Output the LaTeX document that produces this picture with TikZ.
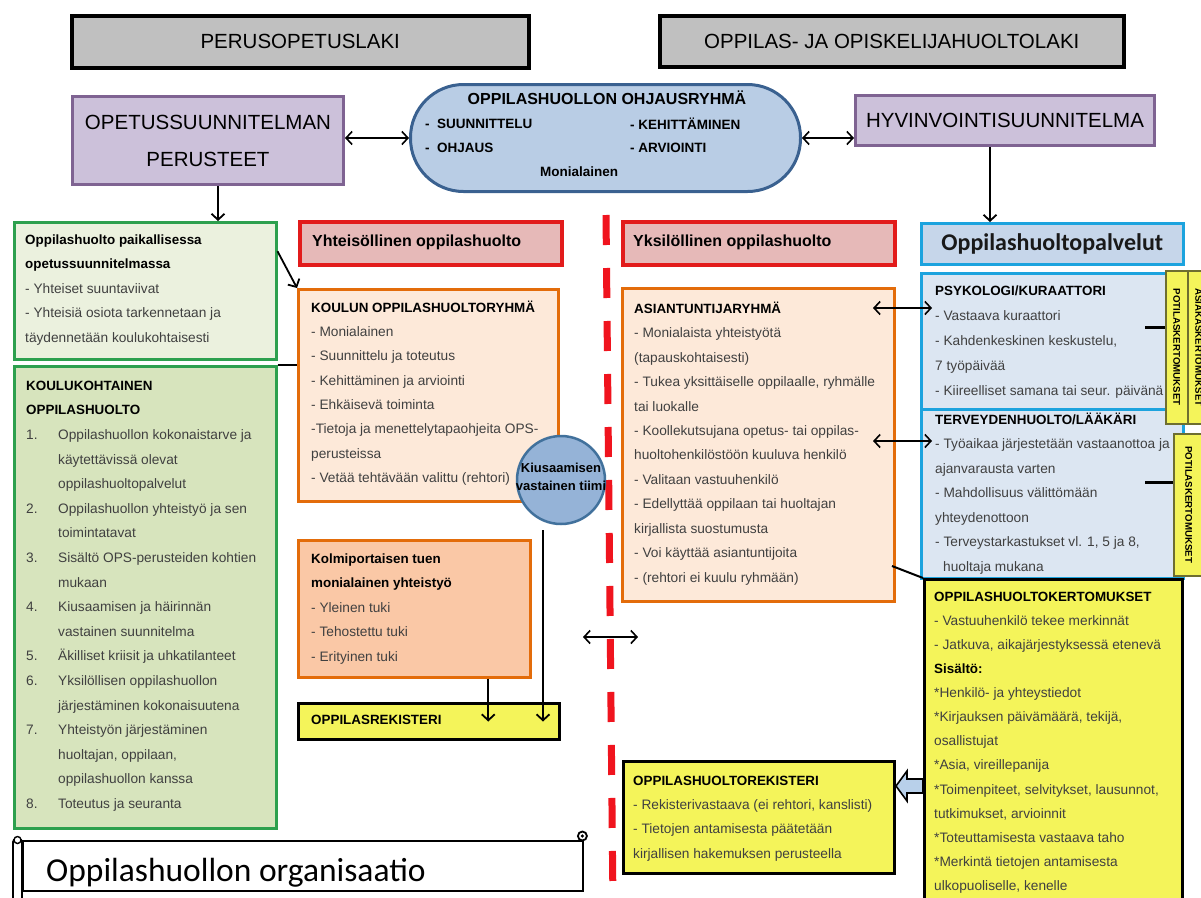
\documentclass[tikz,border=0pt]{standalone}
\usepackage{fontspec}
\setmainfont{Liberation Sans}
\newfontfamily\calfont{Carlito}
\usetikzlibrary{arrows.meta}
\definecolor{grayfill}{HTML}{C0C0C0}
\definecolor{purfill}{HTML}{CCC1DA}
\definecolor{purline}{HTML}{7F6392}
\definecolor{stfill}{HTML}{B9CDE5}
\definecolor{stline}{HTML}{3A6190}
\definecolor{gafill}{HTML}{EBF1DE}
\definecolor{gbfill}{HTML}{D7E4BD}
\definecolor{gline}{HTML}{2DA04E}
\definecolor{rfill}{HTML}{E6B9B8}
\definecolor{rline}{HTML}{E21B1B}
\definecolor{ofill}{HTML}{FDE9D9}
\definecolor{ofilltwo}{HTML}{FAC8A6}
\definecolor{oline}{HTML}{E36C0A}
\definecolor{yfill}{HTML}{F4F45A}
\definecolor{bfill}{HTML}{C6D6EA}
\definecolor{bfilltwo}{HTML}{DCE6F2}
\definecolor{bline}{HTML}{1CA3DE}
\definecolor{cfill}{HTML}{95B3D7}
\definecolor{cline}{HTML}{41719C}
\definecolor{tabline}{HTML}{6E6E30}
\definecolor{bodyc}{HTML}{404040}
\definecolor{dashred}{HTML}{F0141E}
\definecolor{arrfill}{HTML}{B8D0EA}
\newcommand\mytt[1]{{\fontsize{13.4}{24.5}\selectfont\bfseries\color{black}#1}}
\newcommand\mynum[1]{\makebox[32pt][l]{#1}}
\newcommand\myind{\hspace*{32pt}}
\newcommand\mystr{\rule{0pt}{13pt}}
\begin{document}
\begin{tikzpicture}[x=1pt,y=-1pt,
 bx/.style={draw, rectangle, anchor=north west, inner sep=0pt},
 grayb/.style={bx, fill=grayfill, line width=3.5pt},
 purb/.style={bx, fill=purfill, draw=purline, line width=3pt},
 gab/.style={bx, fill=gafill, draw=gline, line width=2.5pt},
 gbb/.style={bx, fill=gbfill, draw=gline, line width=2.5pt},
 redb/.style={bx, fill=rfill, draw=rline, line width=3.5pt},
 orb/.style={bx, fill=ofill, draw=oline, line width=2.5pt},
 orbtwo/.style={bx, fill=ofilltwo, draw=oline, line width=2.5pt},
 yelb/.style={bx, fill=yfill, draw=black, line width=3pt},
 blub/.style={bx, fill=bfilltwo, draw=bline, line width=2.5pt},
 tabb/.style={bx, fill=yfill, draw=tabline, line width=1.5pt},
 txt/.style={anchor=north west, inner sep=0pt, align=left, text=bodyc, font=\fontsize{13.7}{24.5}\selectfont},
 bigtxt/.style={font=\fontsize{20.5}{37}\selectfont, text=black, align=center, inner sep=0pt},
 hdtxt/.style={anchor=west, inner sep=0pt, font=\fontsize{16}{19}\selectfont\bfseries, text=black},
 sttxt/.style={anchor=west, inner sep=0pt, font=\fontsize{13.5}{16}\selectfont\bfseries, text=black},
 tabtxt/.style={rotate=-90, inner sep=0pt, font=\fontsize{9.7}{11}\selectfont\bfseries, text=black},
 arr/.style={line width=1.8pt, -{Straight Barb[length=6pt,width=13pt]}},
 biarr/.style={line width=1.6pt, {Straight Barb[length=6pt,width=13pt]}-{Straight Barb[length=6pt,width=13pt]}},
 plainln/.style={line width=2pt}]
\useasboundingbox (0,0) rectangle (1201,897);
\fill[white] (0,0) rectangle (1201,897);

% dashed divider
\draw[dashred, line width=7pt, dash pattern=on 30pt off 23pt] (606,215) -- (613,905);

% top row
\node[grayb, minimum width=457pt, minimum height=52pt] (grayL) at (70,14) {};
\node[bigtxt] (grayLt) at (grayL.center) {PERUSOPETUSLAKI};
\node[grayb, minimum width=464pt, minimum height=51pt] (grayR) at (658,14) {};
\node[bigtxt] (grayRt) at (grayR.center) {OPPILAS- JA OPISKELIJAHUOLTOLAKI};

% second row
\node[purb, minimum width=271pt, minimum height=88pt] (purpL) at (71,95) {};
\node[bigtxt] (purpLt) at (purpL.center) {OPETUSSUUNNITELMAN\\PERUSTEET};
\node[purb, minimum width=299pt, minimum height=50pt] (purpR) at (854,94) {};
\node[bigtxt] (purpRt) at (purpR.center) {HYVINVOINTISUUNNITELMA};

\node[draw=stline, fill=stfill, line width=3pt, rounded corners=53pt, minimum width=390pt, minimum height=107pt, anchor=north west, inner sep=0pt] (stad) at (409,83) {};
\node[inner sep=0pt, font=\fontsize{16}{19}\selectfont\bfseries] (stadT) at (607,98) {OPPILASHUOLLON OHJAUSRYHMÄ};
\node[sttxt] (s1) at (425,124) {-\ \ SUUNNITTELU};
\node[sttxt] (s2) at (425,148) {-\ \ OHJAUS};
\node[sttxt] (s3) at (630,124) {- KEHITTÄMINEN};
\node[sttxt] (s4) at (630,148) {- ARVIOINTI};
\node[sttxt] (s5) at (540,172) {Monialainen};

\draw[biarr] (purpL.east |- stad.west) -- (stad.west);
\draw[biarr] (stad.east) -- (stad.east -| purpR.west);

% left column
\node[gab, minimum width=262pt, minimum height=137pt] (gA) at (13,221) {};
\node[txt] (gAt) at (25,231) {\mystr\mytt{Oppilashuolto paikallisessa}\\\mytt{opetussuunnitelmassa}\\- Yhteiset suuntaviivat\\- Yhteisiä osiota tarkennetaan ja\\täydennetään koulukohtaisesti};
\draw[arr] ([xshift=10pt]purpL.south) -- ([xshift=10pt]purpL.south |- gA.north);

\node[gbb, minimum width=262pt, minimum height=462pt] (gB) at (13,365) {};
\node[txt, font=\fontsize{13.7}{24.6}\selectfont] (gBt) at (26,377) {\mystr\mytt{KOULUKOHTAINEN}\\\mytt{OPPILASHUOLTO}\\
\mynum{1.}Oppilashuollon kokonaistarve ja\\\myind käytettävissä olevat\\\myind oppilashuoltopalvelut\\
\mynum{2.}Oppilashuollon yhteistyö ja sen\\\myind toimintatavat\\
\mynum{3.}Sisältö OPS-perusteiden kohtien\\\myind mukaan\\
\mynum{4.}Kiusaamisen ja häirinnän\\\myind vastainen suunnitelma\\
\mynum{5.}Äkilliset kriisit ja uhkatilanteet\\
\mynum{6.}Yksilöllisen oppilashuollon\\\myind järjestäminen kokonaisuutena\\
\mynum{7.}Yhteistyön järjestäminen\\\myind huoltajan, oppilaan,\\\myind oppilashuollon kanssa\\
\mynum{8.}Toteutus ja seuranta};

% middle-left column
\node[redb, minimum width=262pt, minimum height=43pt] (yhte) at (298,220) {};
\node[hdtxt] (yhtet) at (312,242) {Yhteisöllinen oppilashuolto};

\node[orb, minimum width=260pt, minimum height=212pt] (koulu) at (297,288) {};
\node[txt, font=\fontsize{13.7}{24.3}\selectfont] (koulut) at (311,299) {\mystr\mytt{KOULUN OPPILASHUOLTORYHMÄ}\\- Monialainen\\- Suunnittelu ja toteutus\\- Kehittäminen ja arviointi\\- Ehkäisevä toiminta\\-Tietoja ja menettelytapaohjeita OPS-\\perusteissa\\- Vetää tehtävään valittu (rehtori)};

\draw[arr] ([yshift=39.5pt]gA.east) -- (koulu.north west);
\draw[plainln] (gB.north east) -- (gB.north east -| koulu.west);

\node[circle, draw=cline, fill=cfill, line width=2.5pt, minimum size=88pt, inner sep=0pt] (tiimi) at (561,480) {};
\node[inner sep=0pt, align=center, font=\fontsize{13}{18}\selectfont\bfseries] (tiimit) at (561,477) {Kiusaamisen\\vastainen tiimi};

\node[orbtwo, minimum width=232pt, minimum height=137pt] (kolmi) at (297,539) {};
\node[txt] (kolmit) at (311,550) {\mystr\mytt{Kolmiportaisen tuen}\\\mytt{monialainen yhteistyö}\\- Yleinen tuki\\- Tehostettu tuki\\- Erityinen tuki};

\node[yelb, minimum width=261pt, minimum height=36pt] (rekA) at (297,702) {};
\node[anchor=west, inner sep=0pt, font=\fontsize{13.4}{16}\selectfont\bfseries] (rekAt) at (311,720) {OPPILASREKISTERI};

\draw[arr] ([xshift=74pt]kolmi.south) -- ([xshift=74pt]kolmi.south |- rekA.center);
\coordinate (cb) at (543,530);
\draw[arr] (cb) -- (cb |- rekA.center);

\coordinate (da) at (583,637);
\coordinate (db) at (638,637);
\draw[biarr] (da) -- (db);

% middle-right column
\node[redb, minimum width=272pt, minimum height=43pt] (yksi) at (621,220) {};
\node[hdtxt] (yksit) at (633,242) {Yksilöllinen oppilashuolto};

\node[orb, minimum width=272pt, minimum height=313pt] (asian) at (621,287) {};
\node[txt, font=\fontsize{13.7}{24.45}\selectfont] (asiant) at (634,300) {\mystr\mytt{ASIANTUNTIJARYHMÄ}\\- Monialaista yhteistyötä\\(tapauskohtaisesti)\\- Tukea yksittäiselle oppilaalle, ryhmälle\\tai luokalle\\- Koollekutsujana opetus- tai oppilas-\\huoltohenkilöstöön kuuluva henkilö\\- Valitaan vastuuhenkilö\\- Edellyttää oppilaan tai huoltajan\\kirjallista suostumusta\\- Voi käyttää asiantuntijoita\\- (rehtori ei kuulu ryhmään)};

\node[yelb, minimum width=271pt, minimum height=112pt] (ohrek) at (622,760) {};
\node[txt, font=\fontsize{13.7}{24.3}\selectfont] (ohrekt) at (633,772) {\mystr\mytt{OPPILASHUOLTOREKISTERI}\\- Rekisterivastaava (ei rehtori, kanslisti)\\- Tietojen antamisesta päätetään\\kirjallisen hakemuksen perusteella};

% right column
\node[bx, fill=bfill, draw=bline, line width=2.5pt, minimum width=262pt, minimum height=41pt] (palv) at (920,222) {};
\node[inner sep=0pt, font=\calfont\fontsize{24}{28}\selectfont\bfseries, text=black!90] (palvt) at (palv.center) {Oppilashuoltopalvelut};
\draw[arr] ([xshift=-15pt]purpR.south) -- ([xshift=-15pt]purpR.south |- palv.north);

\node[blub, minimum width=262pt, minimum height=136pt] (psyk) at (920,272) {};
\node[txt, font=\fontsize{13.7}{25}\selectfont] (psykt) at (935,282) {\mystr\mytt{PSYKOLOGI/KURAATTORI}\\- Vastaava kuraattori\\- Kahdenkeskinen keskustelu,\\7 työpäivää\\- Kiireelliset samana tai seur. päivänä};

\node[blub, minimum width=262pt, minimum height=169pt] (terv) at (920,408) {};
\node[txt] (tervt) at (935,411) {\mystr\mytt{TERVEYDENHUOLTO/LÄÄKÄRI}\\- Työaikaa järjestetään vastaanottoa ja\\ajanvarausta varten\\- Mahdollisuus välittömään\\yhteydenottoon\\- Terveystarkastukset vl. 1, 5 ja 8,\\\hspace*{8pt}huoltaja mukana};

\node[yelb, minimum width=258pt, minimum height=340pt] (kert) at (923,578) {};
\node[txt, font=\fontsize{13.7}{24.1}\selectfont] (kertt) at (934,588) {\mystr\mytt{OPPILASHUOLTOKERTOMUKSET}\\- Vastuuhenkilö tekee merkinnät\\- Jatkuva, aikajärjestyksessä etenevä\\\mytt{Sisältö:}\\*Henkilö- ja yhteystiedot\\*Kirjauksen päivämäärä, tekijä,\\osallistujat\\*Asia, vireillepanija\\*Toimenpiteet, selvitykset, lausunnot,\\tutkimukset, arvioinnit\\*Toteuttamisesta vastaava taho\\*Merkintä tietojen antamisesta\\ulkopuoliselle, kenelle};

% tabs
\node[tabb, minimum width=22pt, minimum height=153pt] (tabA) at (1165,270) {};
\node[tabtxt] (tabAt) at (tabA.center) {POTILASKERTOMUKSET};
\node[tabb, minimum width=22pt, minimum height=153pt] (tabB) at (1187,270) {};
\node[tabtxt] (tabBt) at (tabB.center) {ASIAKASKERTOMUKSET};
\node[tabb, minimum width=30pt, minimum height=142pt] (tabC) at (1173,433) {};
\node[tabtxt] (tabCt) at (tabC.center) {POTILASKERTOMUKSET};

\coordinate (pa) at (1145,327);
\draw[line width=3pt] (pa) -- (pa -| tabA.west);
\coordinate (pb) at (1145,482);
\draw[line width=3pt] (pb) -- (pb -| tabC.west);

% connectors right
\coordinate (aa) at (873,308);
\coordinate (ab) at (932,308);
\draw[biarr] (aa) -- (ab);
\coordinate (ac) at (873,441);
\coordinate (ad) at (932,441);
\draw[biarr] (ac) -- (ad);
\coordinate (ae) at (892,566);
\draw[plainln] (ae) -- (kert.north west);

% block arrow
\draw[fill=arrfill, line width=1.6pt, line join=miter] (ohrek.east |- 0,786) -- (907,771) -- (907,779) -- (kert.west |- 0,779) -- (kert.west |- 0,793) -- (907,793) -- (907,801) -- cycle;

% scroll
\node[bx, fill=white, line width=2.4pt, minimum width=560pt, minimum height=50pt] (scroll) at (22,840) {};
\draw[line width=1.8pt, fill=white] (scroll.north east) ++(-2,-4) circle (4.5pt);
\fill (scroll.north east) ++(-2,-4) circle (1.8pt);
\draw[line width=1.8pt, fill=white, rounded corners=3pt] (13,839) rectangle (22,902);
\draw[line width=1.4pt, fill=white] (17.5,840) circle (3.5pt);
\node[anchor=base west, inner sep=0pt, font=\calfont\fontsize{33.5}{36}\selectfont] (scrollt) at (46,881) {Oppilashuollon organisaatio};
\end{tikzpicture}
\end{document}
